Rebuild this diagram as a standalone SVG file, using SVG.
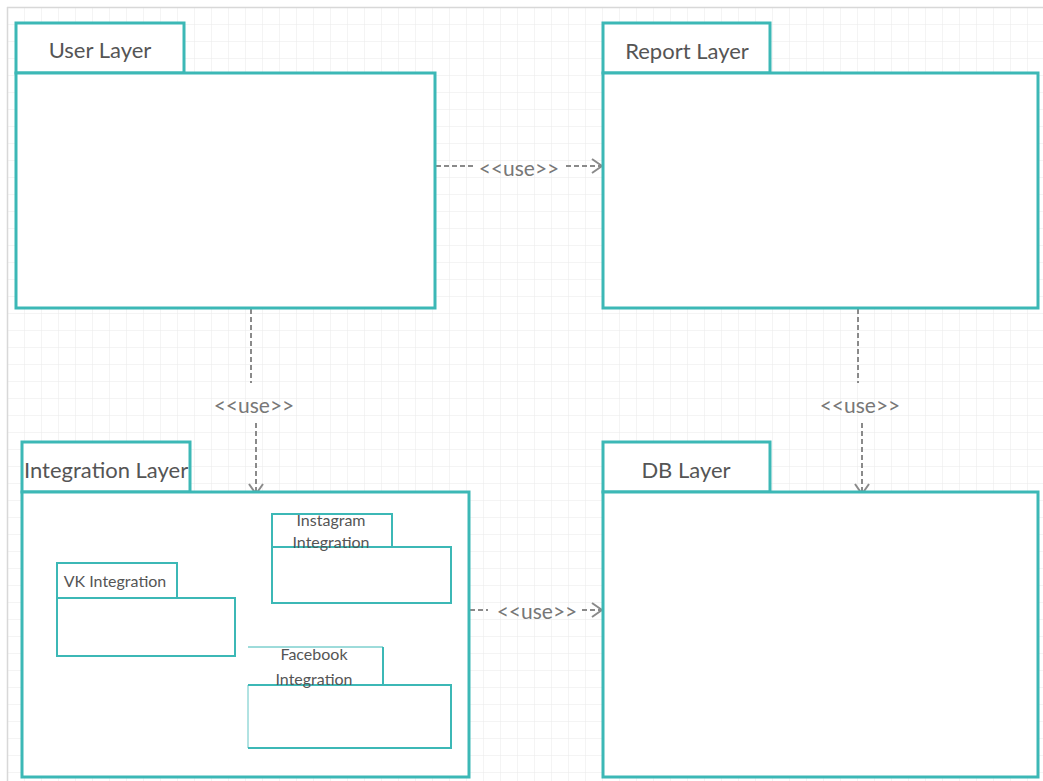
<svg xmlns="http://www.w3.org/2000/svg" width="1043" height="781" viewBox="0 0 1043 781">
  <defs>
    <pattern id="grid" width="17" height="17" patternUnits="userSpaceOnUse" x="7" y="7">
      <path d="M17 0H0V17" fill="none" stroke="#e9e9e9" stroke-width="1"/>
    </pattern>
    <marker id="open" viewBox="0 0 12 16" refX="11" refY="8" markerWidth="12" markerHeight="16" markerUnits="userSpaceOnUse" orient="auto">
      <path d="M1 1L11 8L1 15" fill="none" stroke="#8a8a8a" stroke-width="2"/>
    </marker>
  </defs>
  <style>
    .pkg { fill: #ffffff; stroke: #3cb8b6; stroke-width: 3; }
    .sub { fill: #ffffff; stroke: #3cb8b6; stroke-width: 2; }
    .title { font-family: Lato, "Liberation Sans", sans-serif; fill: #555555; font-size: 22px; text-anchor: middle; }
    .title-left { font-family: Lato, "Liberation Sans", sans-serif; fill: #555555; font-size: 22px; text-anchor: start; }
    .small { font-family: Lato, "Liberation Sans", sans-serif; fill: #555555; font-size: 16px; text-anchor: middle; }
    .dep { fill: none; stroke: #8a8a8a; stroke-width: 2; stroke-dasharray: 5 3; }
    .lbl { font-family: Lato, "Liberation Sans", sans-serif; fill: #777777; font-size: 21px; text-anchor: middle; }
  </style>

  <!-- canvas -->
  <rect x="0" y="0" width="1043" height="781" fill="#ffffff"/>
  <rect x="7" y="7" width="1036" height="774" fill="url(#grid)"/>
  <path d="M7 7.5H1043M7.5 7V781" fill="none" stroke="#d8d8d8" stroke-width="1.5"/>

  <!-- connectors -->
  <g id="connectors">
    <line class="dep" x1="436" y1="166" x2="473" y2="166"/>
    <line class="dep" x1="566" y1="166" x2="602" y2="166" marker-end="url(#open)"/>
    <text class="lbl" x="519" y="176">&lt;&lt;use&gt;&gt;</text>

    <line class="dep" x1="251" y1="309" x2="251" y2="383"/>
    <line class="dep" x1="256" y1="423" x2="256" y2="494" marker-end="url(#open)"/>
    <text class="lbl" x="254" y="413">&lt;&lt;use&gt;&gt;</text>

    <line class="dep" x1="858" y1="309" x2="858" y2="383"/>
    <line class="dep" x1="862" y1="423" x2="862" y2="494" marker-end="url(#open)"/>
    <text class="lbl" x="860" y="413">&lt;&lt;use&gt;&gt;</text>

    <line class="dep" x1="470" y1="610" x2="488" y2="610"/>
    <line class="dep" x1="582" y1="610" x2="602" y2="610" marker-end="url(#open)"/>
    <text class="lbl" x="537" y="619">&lt;&lt;use&gt;&gt;</text>
  </g>

  <!-- User Layer -->
  <g id="user-layer">
    <rect class="pkg" x="16" y="23" width="168" height="50"/>
    <rect class="pkg" x="16" y="73" width="419" height="235"/>
    <text class="title" x="100" y="58" font-size="21">User Layer</text>
  </g>

  <!-- Report Layer -->
  <g id="report-layer">
    <rect class="pkg" x="603" y="23" width="167" height="50"/>
    <rect class="pkg" x="603" y="73" width="435" height="235"/>
    <text class="title" x="687" y="59">Report Layer</text>
  </g>

  <!-- Integration Layer -->
  <g id="integration-layer">
    <rect class="pkg" x="22" y="442" width="168" height="50"/>
    <rect class="pkg" x="22" y="492" width="447" height="285"/>
    <text class="title-left" x="24" y="478">Integration Layer</text>
  </g>

  <!-- DB Layer -->
  <g id="db-layer">
    <rect class="pkg" x="603" y="442" width="167" height="50"/>
    <rect class="pkg" x="603" y="492" width="435" height="285"/>
    <text class="title" x="686" y="478">DB Layer</text>
  </g>

  <!-- VK Integration -->
  <g id="vk-integration">
    <rect class="sub" x="57" y="563" width="120" height="35"/>
    <rect class="sub" x="57" y="598" width="178" height="58"/>
    <text class="small" x="115" y="587" font-size="17">VK Integration</text>
  </g>

  <!-- Instagram Integration -->
  <g id="instagram-integration">
    <rect class="sub" x="272" y="514" width="120" height="33"/>
    <rect class="sub" x="272" y="547" width="179" height="56"/>
    <text class="small" x="331" y="526">Instagram</text>
    <text class="small" x="331" y="548">Integration</text>
  </g>

  <!-- Facebook Integration -->
  <g id="facebook-integration">
    <path d="M248 647H383V685" fill="none" stroke="#3cb8b6" stroke-width="1"/>
    <path d="M383 647V685" fill="none" stroke="#3cb8b6" stroke-width="2"/>
    <rect x="248" y="685" width="203" height="63" fill="#ffffff"/>
    <path d="M248 685H451V748H248" fill="none" stroke="#3cb8b6" stroke-width="2"/>
    <path d="M248 685V748" fill="none" stroke="#3cb8b6" stroke-width="0.8"/>
    <text class="small" x="314" y="660">Facebook</text>
    <text class="small" x="314" y="685">Integration</text>
  </g>
</svg>
